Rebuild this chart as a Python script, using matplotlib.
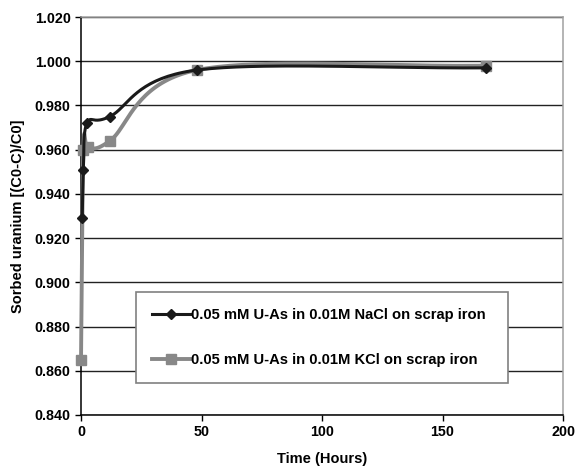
import numpy as np
import matplotlib
matplotlib.use("Agg")
import matplotlib.pyplot as plt

# data
nacl_hours = [0.5, 1, 2.5, 12, 48, 168]
nacl_sorbed = [0.929, 0.951, 0.972, 0.975, 0.996, 0.997]
kcl_hours = [0, 1, 3, 12, 48, 168]
kcl_sorbed = [0.865, 0.960, 0.961, 0.964, 0.996, 0.998]

nacl_label = "0.05 mM U-As in 0.01M NaCl on scrap iron"
kcl_label = "0.05 mM U-As in 0.01M KCl on scrap iron"
y_ticks = np.arange(0.840, 1.0201, 0.020)
x_ticks = [0, 50, 100, 150, 200]


def smooth(x, y, n=40):
    # Catmull-Rom style curve through the points (Excel "smoothed line")
    x = np.asarray(x, float); y = np.asarray(y, float)
    px = np.concatenate([[2 * x[0] - x[1]], x, [2 * x[-1] - x[-2]]])
    py = np.concatenate([[2 * y[0] - y[1]], y, [2 * y[-1] - y[-2]]])
    xs, ys = [], []
    t = np.linspace(0, 1, n)
    for i in range(1, len(px) - 2):
        for arr, out in ((px, xs), (py, ys)):
            p0, p1, p2, p3 = arr[i - 1:i + 3]
            m1 = (p2 - p0) / 6; m2 = (p3 - p1) / 6
            c1 = p1 + m1; c2 = p2 - m2
            out.extend((1 - t) ** 3 * p1 + 3 * (1 - t) ** 2 * t * c1
                       + 3 * (1 - t) * t ** 2 * c2 + t ** 3 * p2)
    # no backtracking in time
    return np.maximum.accumulate(np.array(xs)), np.array(ys)


plt.rcParams["font.family"] = ["Liberation Sans", "DejaVu Sans"]
plt.rcParams["font.weight"] = "bold"

fig = plt.figure(figsize=(5.75, 4.71), dpi=100)
ax = fig.add_axes([0.1409, 0.1189, 0.8383, 0.845])

black = "#1a1a1a"
gray = "#888888"

sx, sy = smooth(kcl_hours, kcl_sorbed)
ax.plot(sx, sy, color=gray, lw=2.8, zorder=3, clip_on=False)
ax.plot(kcl_hours, kcl_sorbed, ls="none", marker="s", ms=7, color=gray, zorder=4, clip_on=False)
sx, sy = smooth(nacl_hours, nacl_sorbed)
ax.plot(sx, sy, color=black, lw=2.2, zorder=5, clip_on=False)
ax.plot(nacl_hours, nacl_sorbed, ls="none", marker="D", ms=5.5, color=black, zorder=6, clip_on=False)

# legend proxies
h1, = ax.plot([], [], color=black, lw=2.2, marker="D", ms=5.5)
h2, = ax.plot([], [], color=gray, lw=2.8, marker="s", ms=7)
leg = ax.legend([h1, h2], [nacl_label, kcl_label], loc="upper left",
                bbox_to_anchor=(0.114, 0.309, 0.772, 0.0), mode="expand",
                fancybox=False, framealpha=1, edgecolor="#808080",
                prop={"size": 10.6, "weight": "bold"}, handlelength=2.6,
                handletextpad=0.05, labelspacing=2.1, borderpad=1.1,
                borderaxespad=0, markerscale=1.0)
leg.get_frame().set_linewidth(1.2)
leg.set_zorder(10)

ax.set_xlim(0, 200)
ax.set_ylim(0.840, 1.020)
ax.set_xticks(x_ticks)
ax.set_yticks(y_ticks)
ax.set_yticklabels([f"{v:.3f}" for v in y_ticks])
ax.tick_params(labelsize=10.3, direction="out", length=4, width=1, color="black")
for lab in ax.get_xticklabels() + ax.get_yticklabels():
    lab.set_fontweight("bold")

ax.grid(axis="y", color="#222222", lw=1)
ax.set_axisbelow(True)
ax.spines["left"].set_color("black")
ax.spines["bottom"].set_color("black")
ax.spines["right"].set_color("#a0a0a0")
ax.spines["top"].set_color("#a0a0a0")
for s in ax.spines.values():
    s.set_linewidth(1.1)

ax.set_xlabel("Time (Hours)", fontsize=10.5, fontweight="bold", labelpad=9)
ax.set_ylabel("Sorbed uranium [(C0-C)/C0]", fontsize=10.5, fontweight="bold", labelpad=7)

fig.savefig("out.png", dpi=100)
